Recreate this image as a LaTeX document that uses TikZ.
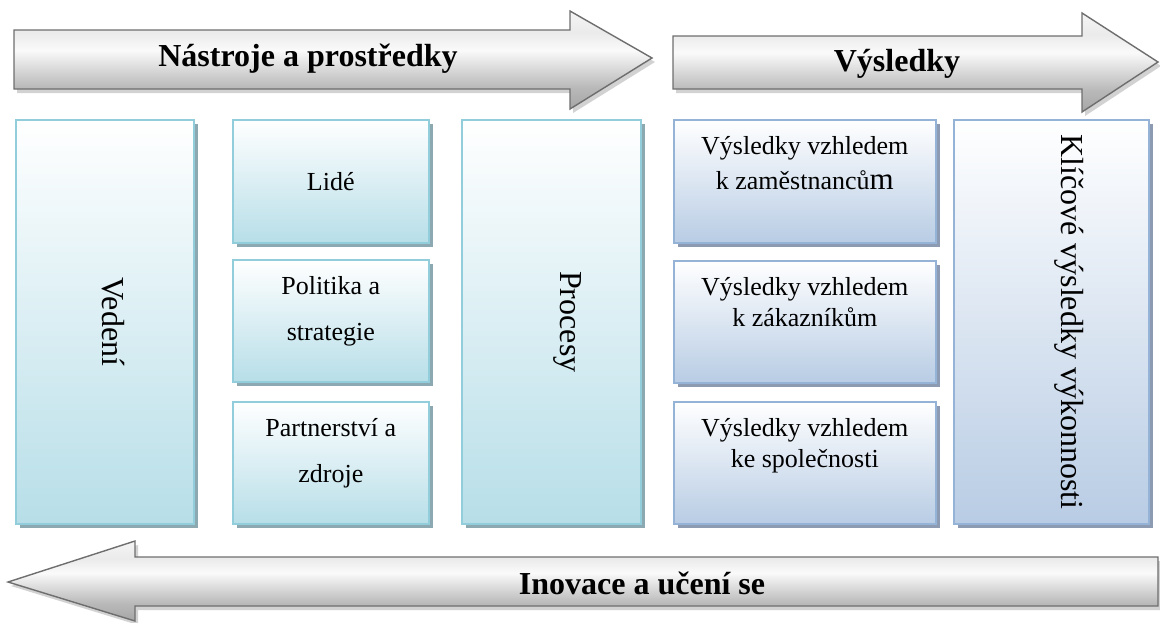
\documentclass[tikz,border=0pt]{standalone}
\usepackage{fontspec}
\setmainfont{Liberation Serif}
\usetikzlibrary{shadows}
\definecolor{aqualine}{RGB}{146,205,220}
\definecolor{aquafill}{RGB}{183,222,232}
\definecolor{aquashadow}{RGB}{140,168,176}
\definecolor{blueline}{RGB}{149,179,215}
\definecolor{bluefill}{RGB}{184,204,228}
\definecolor{blueshadow}{RGB}{140,155,178}
\definecolor{arrowline}{RGB}{110,110,110}
\pgfdeclareverticalshading{arrowshade}{100bp}{color(0bp)=(gray!70); color(25bp)=(gray!70); color(36bp)=(gray!55); color(55bp)=(gray!4); color(64bp)=(gray!16); color(75bp)=(gray!8); color(100bp)=(gray!8)}
\begin{document}
\begin{tikzpicture}[x=1pt,y=-1pt]
	\tikzset{
		bigarrow/.style={draw=arrowline, line width=1.4pt, shading=arrowshade, line join=miter,
			drop shadow={shadow xshift=3pt, shadow yshift=-4pt, fill=gray!35, opacity=1}},
		title/.style={font=\fontsize{32}{38}\selectfont\bfseries, inner sep=0pt},
		lbox/.style={draw=aqualine, line width=1.6pt, top color=white, bottom color=aquafill,
			anchor=north west, drop shadow={shadow xshift=4pt, shadow yshift=-4pt, fill=aquashadow, opacity=1}},
		rbox/.style={draw=blueline, line width=1.6pt, top color=white, bottom color=bluefill,
			anchor=north west, drop shadow={shadow xshift=4pt, shadow yshift=-4pt, fill=blueshadow, opacity=1}},
		btext/.style={font=\fontsize{26}{46}\selectfont, align=center, inner sep=0pt},
		rtext/.style={font=\fontsize{26}{31}\selectfont, align=center, inner sep=0pt, anchor=north},
		vtext/.style={font=\fontsize{32}{36}\selectfont, rotate=-90, inner sep=0pt}
	}
	\useasboundingbox (0,0) rectangle (1160,622);
	% arrows
	\draw[bigarrow] (14,30) -- (570,30) -- (570,11) -- (652,58) -- (570,109) -- (570,89) -- (14,89) -- cycle;
	\draw[bigarrow] (673,36) -- (1082,36) -- (1082,13) -- (1158,62) -- (1082,112) -- (1082,89) -- (673,89) -- cycle;
	\draw[bigarrow] (1158,557) -- (135,557) -- (135,541) -- (8,582) -- (135,621) -- (135,606) -- (1158,606) -- cycle;
	\node[title] (tools) at (308,59) {Nástroje a prostředky};
	\node[title] (results) at (897,64) {Výsledky};
	\node[title] (innov) at (642,583) {Inovace a učení se};
	% enablers
	\node[lbox, minimum width=178pt, minimum height=404pt] (veden) at (15,119) {};
	\node[lbox, minimum width=196pt, minimum height=123pt] (lide) at (232,119) {};
	\node[lbox, minimum width=196pt, minimum height=122pt] (polit) at (232,259) {};
	\node[lbox, minimum width=196pt, minimum height=122pt] (partn) at (232,401) {};
	\node[lbox, minimum width=179pt, minimum height=404pt] (proc) at (461,119) {};
	\node[xshift=9pt, vtext] at (veden.center) {Vedení};
	\node[btext] at (lide.center) {Lidé};
	\node[btext, yshift=10pt] at (polit.center) {Politika a\\strategie};
	\node[btext, yshift=10pt] at (partn.center) {Partnerství a\\zdroje};
	\node[xshift=16pt, vtext] at (proc.center) {Procesy};
	% results
	\node[rbox, minimum width=262pt, minimum height=123pt] (zam) at (673,119) {};
	\node[rbox, minimum width=262pt, minimum height=122pt] (zak) at (673,260) {};
	\node[rbox, minimum width=262pt, minimum height=122pt] (spol) at (673,401) {};
	\node[rbox, minimum width=195pt, minimum height=404pt] (klic) at (953,119) {};
	\node[rtext, yshift=-17pt] at (zam.north) {Výsledky vzhledem\\[4pt]k zaměstnanců{\fontsize{31}{31}\selectfont m}};
	\node[rtext, yshift=-17pt] at (zak.north) {Výsledky vzhledem\\k zákazníkům};
	\node[rtext, yshift=-17pt] at (spol.north) {Výsledky vzhledem\\ke společnosti};
	\node[xshift=18pt, vtext] at (klic.center) {Klíčové výsledky výkonnosti};
\end{tikzpicture}
\end{document}
